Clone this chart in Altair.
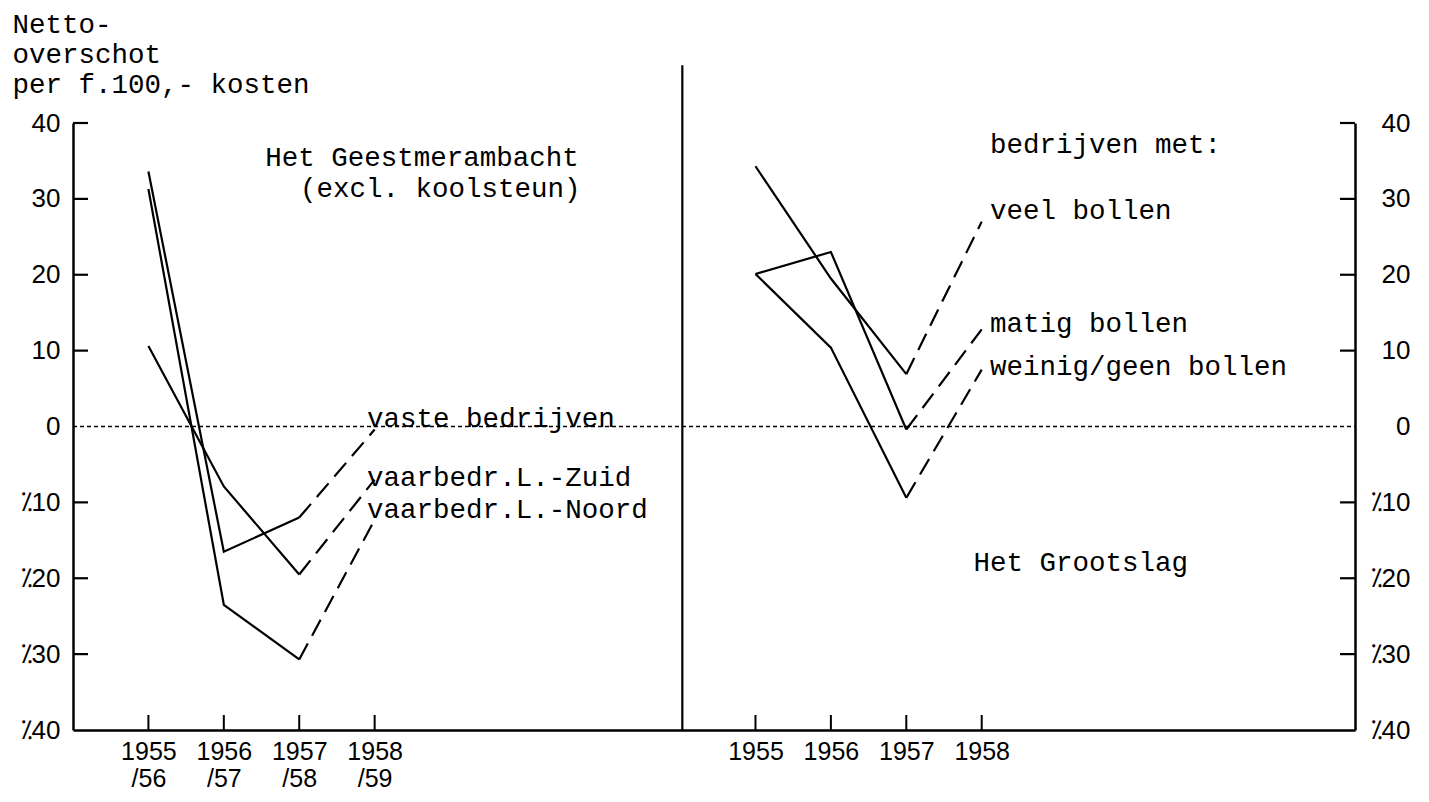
import json
import altair as alt
import pandas as pd

# ---------------- data ----------------
series_left = ["vaste bedrijven", "vaarbedr.L.-Zuid", "vaarbedr.L.-Noord"]
series_right = ["veel bollen", "matig bollen", "weinig/geen bollen"]

x_top_left = ["1955", "1956", "1957", "1958"]
x_bottom_left = ["/56", "/57", "/58", "/59"]
x_right = ["1955", "1956", "1957", "1958"]

# Het Geestmerambacht (excl. koolsteun)
vaste = [33.6, -16.5, -12.0, -0.4]
zuid = [10.6, -7.9, -19.5, -7.0]
noord = [31.3, -23.5, -30.7, -12.3]
# Het Grootslag
veel = [34.3, 19.5, 6.9, 27.0]
matig = [20.1, 23.0, -0.4, 12.8]
weinig = [20.1, 10.4, -9.4, 7.5]

y_ticks = [40, 30, 20, 10, 0, -10, -20, -30, -40]

# ---------------- layout helpers ----------------
W, H = 1282, 607
pos_left = [1, 2, 3, 4]
pos_right = [9.05, 10.05, 11.05, 12.05]
divider_x = 8.08

rows = []
for name, vals in zip(series_left, [vaste, zuid, noord]):
    for i, (p, v) in enumerate(zip(pos_left, vals)):
        rows.append({"series": name, "x": p, "value": v, "i": i})
for name, vals in zip(series_right, [veel, matig, weinig]):
    for i, (p, v) in enumerate(zip(pos_right, vals)):
        rows.append({"series": name, "x": p, "value": v, "i": i})
df = pd.DataFrame(rows)
solid = df[df["i"] <= 2]
dashed = df[df["i"] >= 2]

annotations = pd.DataFrame([
    {"text": "Het Geestmerambacht", "x": 2.55, "value": 34.3},
    {"text": "(excl. koolsteun)", "x": 3.01, "value": 30.3},
    {"text": "vaste bedrijven", "x": 3.9, "value": 0.0},
    {"text": "vaarbedr.L.-Zuid", "x": 3.9, "value": -7.9},
    {"text": "vaarbedr.L.-Noord", "x": 3.9, "value": -12.0},
    {"text": "bedrijven met:", "x": 12.16, "value": 36.1},
    {"text": "veel bollen", "x": 12.16, "value": 27.3},
    {"text": "matig bollen", "x": 12.16, "value": 12.4},
    {"text": "weinig/geen bollen", "x": 12.16, "value": 6.85},
    {"text": "Het Grootslag", "x": 11.94, "value": -19.1},
])

# x-axis label expression
parts = []
for p, a, b in zip(pos_left, x_top_left, x_bottom_left):
    parts.append(f"abs(datum.value - {p}) < 0.01 ? {json.dumps([a, b])} : ")
for p, a in zip(pos_right, x_right):
    parts.append(f"abs(datum.value - {p}) < 0.01 ? {json.dumps(a)} : ")
x_label_expr = "".join(parts) + "''"

y_label_expr = "datum.value < 0 ? '\u2052' + abs(datum.value) : '' + datum.value"

SANS = "Liberation Sans"
MONO = "Liberation Mono"
MONO_SIZE = 27.5

X = alt.X("x:Q", scale=alt.Scale(domain=[0, 17], nice=False, zero=False),
          axis=alt.Axis(values=pos_left + pos_right, labelExpr=x_label_expr,
                        ticks=False, grid=False, title=None,
                        domainColor="black", domainWidth=2.5,
                        labelFont=SANS, labelFontSize=25, labelColor="black",
                        labelPadding=9, labelLineHeight=27, labelFlush=False))
yscale = alt.Scale(domain=[-40, 40], nice=False, zero=False)
Y_none = alt.Y("value:Q", scale=yscale, axis=None)
Y_left = alt.Y("value:Q", scale=yscale,
               axis=alt.Axis(values=y_ticks, labelExpr=y_label_expr, ticks=False,
                             grid=False, domainColor="black", domainWidth=2.5,
                             labelFont=SANS, labelFontSize=26, labelColor="black",
                             labelPadding=13, labelFlush=False,
                             title=["Netto-", "overschot", "per f.100,- kosten"],
                             titleAngle=0, titleAlign="left", titleBaseline="alphabetic",
                             titleX=-61, titleY=-91, titleFont=MONO, titleFontSize=MONO_SIZE,
                             titleFontWeight="normal", titleLineHeight=30,
                             titleColor="black"))
Y_right = alt.Y("value:Q", scale=yscale,
                axis=alt.Axis(orient="right", values=y_ticks, labelExpr=y_label_expr,
                              ticks=False, grid=False, domainColor="black",
                              domainWidth=2.5, labelFont=SANS, labelFontSize=26,
                              labelColor="black", labelAlign="right", labelPadding=55,
                              labelFlush=False, title=None))

solid_lines = alt.Chart(solid).mark_line(color="black", strokeWidth=2.2).encode(
    x=X, y=Y_left, detail="series:N", order="x:Q")
dashed_lines = alt.Chart(dashed).mark_line(color="black", strokeWidth=2.2,
                                           strokeDash=[18, 9]).encode(
    x=X, y=Y_none, detail="series:N", order="x:Q")

tick_df = pd.DataFrame({"value": [v for v in y_ticks if v not in (0, -40)]})
left_ticks = alt.Chart(tick_df).mark_rule(color="black", strokeWidth=2.2).encode(
    y=Y_none, x=alt.value(0), x2=alt.value(15))
right_ticks = alt.Chart(pd.DataFrame({"value": y_ticks})).mark_rule(
    color="black", strokeWidth=2.2).encode(
    y=Y_right, x=alt.value(W - 15), x2=alt.value(W)).transform_filter(
    "datum.value != 0 && datum.value != -40")

xtick_df = pd.DataFrame({"x": pos_left + pos_right})
x_ticks = alt.Chart(xtick_df).mark_rule(color="black", strokeWidth=2).encode(
    x=X, y=alt.value(H), y2=alt.value(H - 15))

zero_line = alt.Chart(pd.DataFrame({"value": [0]})).mark_rule(
    color="black", strokeWidth=1.3, strokeDash=[4, 3]).encode(
    y=Y_none, x=alt.value(0), x2=alt.value(W))

divider = alt.Chart(pd.DataFrame({"x": [divider_x], "value": [-40], "top": [47.6]})).mark_rule(
    color="black", strokeWidth=2.2).encode(
    x=X, y=Y_none, y2="top:Q")

texts = alt.Chart(annotations).mark_text(
    align="left", baseline="alphabetic", font=MONO, fontSize=MONO_SIZE, color="black").encode(
    x=X, y=Y_none, text="text:N")

chart = alt.layer(
    zero_line, divider, x_ticks, left_ticks, right_ticks,
    solid_lines, dashed_lines, texts
).resolve_axis(y="independent").properties(
    width=W, height=H,
    autosize=alt.AutoSizeParams(type="none"),
    padding={"left": 65, "top": 115, "right": 60, "bottom": 64},
    background="white",
).configure_view(stroke=None)

chart.save("out.html", embed_options={"renderer": "svg", "actions": False})
